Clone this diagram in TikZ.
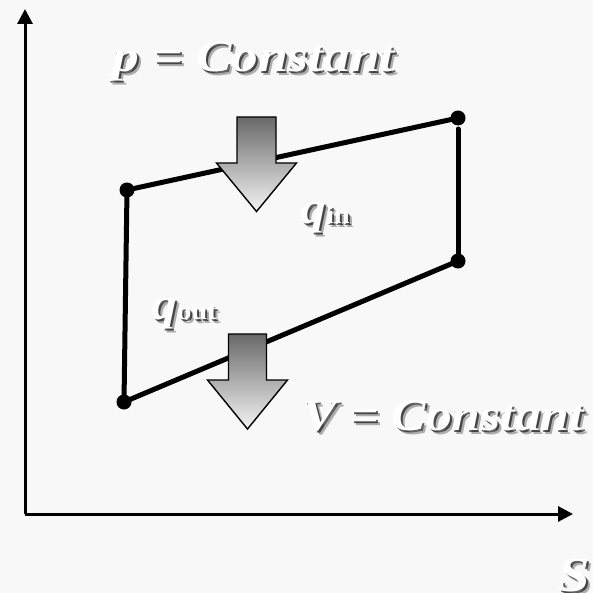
\documentclass[tikz,border=0pt]{standalone}
\usepackage{fontspec}
\setmainfont{Liberation Serif}
\usetikzlibrary{arrows.meta}
\definecolor{bgc}{RGB}{248,248,248}
\definecolor{arrtop}{RGB}{105,105,105}
\definecolor{arrbot}{RGB}{244,244,244}
\tikzset{
  bigtxt/.style={font=\fontsize{45}{45}\selectfont\bfseries\itshape, inner sep=0pt, anchor=base west, xscale=1.15},
  shtxt/.style={bigtxt, text=black, text opacity=0.6},
  shtxtb/.style={bigtxt, text=black, text opacity=0.3},
  wtxt/.style={bigtxt, text=white},
  cycleline/.style={line width=5bp, line cap=round},
  dot/.style={circle, fill=black, inner sep=0pt, minimum size=15bp},
  axisline/.style={line width=3bp, -{Triangle[length=15bp,width=15bp]}},
  heat/.style={draw=black, line width=1.4bp, line join=miter, top color=arrtop, bottom color=arrbot},
}
\newcommand\qsub[1]{q{\fontsize{25}{25}\selectfont\upshape #1}}
\begin{document}
\begin{tikzpicture}[x=1bp,y=-1bp]
\useasboundingbox (0,0) rectangle (593,593);
\clip (0,0) rectangle (593,593);
\fill[bgc] (0,0) rectangle (593,593);
% axes
\coordinate (O) at (25,514);
\coordinate (Ytip) at (25,9);
\coordinate (Xtip) at (573,514);
\draw[axisline] (O) -- (Ytip);
\draw[axisline] (O) -- (Xtip);
% cycle
\coordinate (A) at (127,190);
\coordinate (B) at (458,118);
\coordinate (C) at (458,261);
\coordinate (D) at (124,402);
\draw[cycleline] (A) -- (B);
\draw[cycleline, shorten <=11bp] (B) -- (C);
\draw[cycleline] (C) -- (D);
\draw[cycleline] (D) -- (A);
\node[dot] (dA) at (A) {};
\node[dot] (dB) at (B) {};
\node[dot] (dC) at (C) {};
\node[dot] (dD) at (D) {};
% heat arrows
\path[heat] (237,117) -- (276,117) -- (276,163) -- (296.5,163) -- (256.5,211.5) -- (216.5,163) -- (237,163) -- cycle;
\path[heat] (228.5,334) -- (266.5,334) -- (266.5,380) -- (287.5,380) -- (247.5,429) -- (207.5,380) -- (228.5,380) -- cycle;
% labels
\node[shtxtb, xscale=1.035] (p-s2) at (116,76) {p = Constant};
\node[shtxt, xscale=1.035] (p-s) at (114,74) {p = Constant};
\node[wtxt, xscale=1.035] (pconst) at (112,72) {p = Constant};
\node[shtxtb] (qi-s2) at (304,227) {\qsub{in}};
\node[shtxt] (qi-s) at (302,225) {\qsub{in}};
\node[wtxt] (qin) at (300,223) {\qsub{in}};
\node[shtxtb] (qo-s2) at (155,323) {\qsub{out}};
\node[shtxt] (qo-s) at (153,321) {\qsub{out}};
\node[wtxt] (qout) at (151,319) {\qsub{out}};
\node[shtxtb] (v-s2) at (306,434) {V = Constant};
\node[shtxt] (v-s) at (304,432) {V = Constant};
\node[wtxt] (vconst) at (302,430) {V = Constant};
\node[shtxtb, scale=1.1] (s-s2) at (562,595) {S};
\node[shtxt, scale=1.1] (s-s) at (560,593) {S};
\node[wtxt, scale=1.1] (sax) at (558,591) {S};
\end{tikzpicture}
\end{document}
